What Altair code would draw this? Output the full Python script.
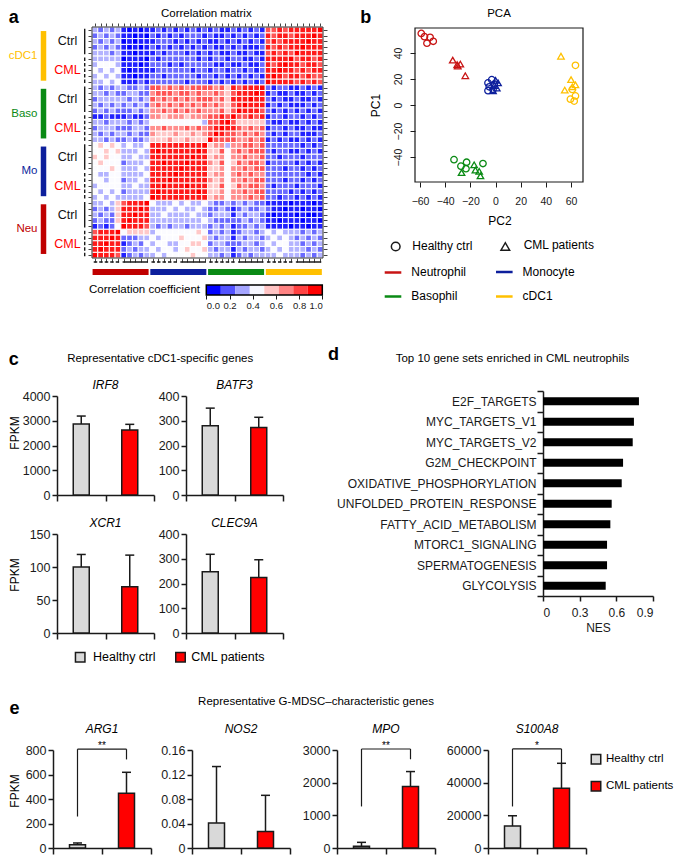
import altair as alt
import pandas as pd

FONT = "Liberation Sans"
INK = "#1a1a1a"

# ---------------- panel a: correlation matrix ----------------
HM_GROUPS = ["Neu", "Mo", "Baso", "cDC1"]          # left->right and bottom->top
HM_GROUP_COLORS = ["#c00000", "#0d1f9c", "#0a8a14", "#ffc000"]
HM_SUBS = ["CML", "Ctrl"]
HM_PER_SUB = 5
CORR_LEVELS = 9
# lower triangle, row i (from bottom) holds columns 0..i ; digit d -> correlation d/9
CORR_LOWER = [
    "9",
    "89",
    "889",
    "8889",
    "78889",
    "12124" "9",
    "23225" "89",
    "32325" "889",
    "23235" "8889",
    "33435" "78889",
    "34343" "33334" "9",
    "43434" "23333" "89",
    "34444" "33433" "889",
    "44344" "23343" "8889",
    "43344" "33334" "88889",
    "44454" "33343" "88888" "9",
    "45444" "23334" "88988" "89",
    "54544" "33433" "88888" "889",
    "44545" "33343" "89888" "8889",
    "45454" "34334" "88888" "88889",
    "33232" "23223" "55565" "56555" "9",
    "32323" "32322" "65556" "55656" "79",
    "23332" "22332" "66766" "67676" "789",
    "33233" "32323" "44444" "44443" "7789",
    "11211" "12112" "66566" "65666" "77879",
    "23232" "22323" "66767" "67676" "66757" "9",
    "32323" "23232" "67676" "76767" "67657" "89",
    "23333" "32323" "76767" "67677" "76758" "889",
    "33232" "23322" "67776" "77676" "67657" "8889",
    "32323" "32232" "77676" "76777" "76758" "78889",
    "33434" "11121" "22222" "21222" "12121" "21212" "9",
    "34343" "11011" "22122" "22212" "21212" "12121" "89",
    "43434" "10111" "12222" "22122" "12212" "21212" "889",
    "34443" "11101" "22212" "12222" "21121" "12112" "8789",
    "33333" "01110" "21222" "22212" "12212" "21121" "88889",
    "33323" "11011" "12122" "21212" "12112" "11211" "78787" "9",
    "23232" "10101" "21212" "12121" "21121" "21112" "87878" "89",
    "32323" "01011" "12221" "21212" "11212" "12121" "78788" "889",
    "23232" "11010" "21212" "12221" "21121" "21212" "87887" "8889",
    "32323" "10101" "12121" "21212" "12112" "12121" "77878" "88889",
]
CB_TICKS = [0, 0.2, 0.4, 0.6, 0.8, 1.0]
CB_BINS = 8

# ---------------- panel b: PCA ----------------
PCA_TYPES = ["Neutrophil", "Monocyte", "Basophil", "cDC1"]
PCA_COLORS = ["#c81414", "#0d1f9c", "#0a8a14", "#ffc000"]
COHORTS = ["Healthy ctrl", "CML patients"]
NEU_CTRL_PC2 = [-59, -56.5, -52, -49.5, -54.5]
NEU_CTRL_PC1 = [55, 52.5, 52, 49, 47.5]
NEU_CML_PC2 = [-34, -30.5, -28, -30, -24]
NEU_CML_PC1 = [34.5, 31, 31.5, 30, 22.5]
MONO_CTRL_PC2 = [-6, -5, -3, -2, -6, -1]
MONO_CTRL_PC1 = [17, 14, 19.5, 12, 11, 16]
MONO_CML_PC2 = [0, 1, -2, -1, 2]
MONO_CML_PC1 = [19, 13, 11, 15, 17]
BASO_CTRL_PC2 = [-33, -27.5, -23, -23.5, -10]
BASO_CTRL_PC1 = [-42, -47, -44, -49, -45]
BASO_CML_PC2 = [-27, -17, -16, -13, -12]
BASO_CML_PC1 = [-52, -46, -50, -51, -54.5]
DC_CTRL_PC2 = [63.5, 59.5, 62.5, 63.5, 61]
DC_CTRL_PC1 = [30.5, 4.5, 3, 7, 12]
DC_CML_PC2 = [52, 60, 55, 63.5, 61]
DC_CML_PC1 = [37.5, 19.5, 11.5, 15.5, 14]
PCA_X_TICKS = [-60, -40, -20, 0, 20, 40, 60]
PCA_Y_TICKS = [-40, -20, 0, 20, 40]

# ---------------- panel c: cDC1 genes (mean, SD) ----------------
COHORT_COLORS = ["#d9d9d9", "#ff0000"]
IRF8_MEAN = [2870, 2625]
IRF8_SD = [320, 230]
BATF3_MEAN = [280, 273]
BATF3_SD = [71, 41]
XCR1_MEAN = [100, 70]
XCR1_SD = [19, 48]
CLEC9A_MEAN = [247, 224]
CLEC9A_SD = [71, 72]

# ---------------- panel d: GSEA ----------------
GSEA_SETS = ["E2F_TARGETS", "MYC_TARGETS_V1", "MYC_TARGETS_V2", "G2M_CHECKPOINT",
             "OXIDATIVE_PHOSPHORYLATION", "UNFOLDED_PROTEIN_RESPONSE",
             "FATTY_ACID_METABOLISM", "MTORC1_SIGNALING", "SPERMATOGENESIS", "GLYCOLYSIS"]
GSEA_NES = [0.785, 0.744, 0.734, 0.655, 0.644, 0.562, 0.551, 0.524, 0.524, 0.513]
NES_TICKS = [0, 0.3, 0.6, 0.9]

# ---------------- panel e: G-MDSC genes (mean, SD, bracket) ----------------
ARG1_MEAN = [27, 447]
ARG1_SD = [14, 171]
ARG1_BRACKET = (807, 257, 723, "**")
NOS2_MEAN = [0.041, 0.027]
NOS2_SD = [0.092, 0.059]
MPO_MEAN = [50, 1882]
MPO_SD = [123, 458]
MPO_BRACKET = (3030, 1272, 2716, "**")
S100A8_MEAN = [13430, 36610]
S100A8_SD = [6300, 15250]
S100A8_BRACKET = (60660, 25430, 51880, "*")

ONE = pd.DataFrame({"k": [0]})

# ---------- layout helpers: every panel is a box (x0, y0, x1, y1) on the page and a plot rect ----------


def size_of(box):
    return dict(width=box[2] - box[0], height=box[3] - box[1])


def xrange_(box, plot):
    return [plot[0] - box[0], plot[0] + plot[2] - box[0]]


def yrange_(box, plot):          # bottom -> top (continuous)
    return [plot[1] + plot[3] - box[1], plot[1] - box[1]]


def yband_(box, plot):           # top -> bottom (band)
    return [plot[1] - box[1], plot[1] + plot[3] - box[1]]


def off_left(box, plot):
    return -(plot[0] - box[0])


def off_bottom(box, plot):
    return -(box[3] - plot[1] - plot[3])


def off_top(box, plot):
    return -(plot[1] - box[1])


def off_right(box, plot):
    return -(box[2] - plot[0] - plot[2])


def txt(s, x, y, size=12, **kw):
    return alt.Chart(pd.DataFrame({"t": [s]})).mark_text(fontSize=size, **kw).encode(
        x=alt.value(x), y=alt.value(y), text="t:N")


def T(box, s, x, y, size=12, **kw):
    return txt(s, x - box[0], y - box[1], size, **kw)


def border(box, plot, color, width):
    return alt.Chart(ONE).mark_rect(fillOpacity=0, stroke=color, strokeWidth=width).encode(
        x=alt.value(plot[0] - box[0]), x2=alt.value(plot[0] + plot[2] - box[0]),
        y=alt.value(plot[1] - box[1]), y2=alt.value(plot[1] + plot[3] - box[1]))


def pt(box, x, y, **kw):
    return alt.Chart(ONE).mark_point(**kw).encode(x=alt.value(x - box[0]), y=alt.value(y - box[1]))


def hline(box, x1, x2, y, color, width):
    return alt.Chart(ONE).mark_rule(color=color, strokeWidth=width).encode(
        x=alt.value(x1 - box[0]), x2=alt.value(x2 - box[0]), y=alt.value(y - box[1]))


def sq(box, x, y, fill):
    return alt.Chart(ONE).mark_square(size=90, fill=fill, stroke=INK, strokeWidth=1.5, opacity=1).encode(
        x=alt.value(x - box[0]), y=alt.value(y - box[1]))


# ================= panel a =================
HEAT_BOX = (5, 8, 340, 280)
HEAT_PLOT = (89, 27, 231, 231)
n = len(CORR_LOWER)
corr = [[0.0] * n for _ in range(n)]
for i, row in enumerate(CORR_LOWER):
    assert len(row) == i + 1, (i, len(row))
    for j, ch in enumerate(row):
        corr[i][j] = corr[j][i] = int(ch) / CORR_LEVELS
cells = pd.DataFrame([{"c": j, "c2": j + 1, "r": i, "r2": i + 1, "v": corr[i][j]}
                      for i in range(n) for j in range(n)])

SX = alt.Scale(domain=[0, n], range=xrange_(HEAT_BOX, HEAT_PLOT), nice=False, zero=False)
SY = alt.Scale(domain=[0, n], range=yrange_(HEAT_BOX, HEAT_PLOT), nice=False, zero=False)
CELL_TICKS = [k + 0.5 for k in range(n)]
CORR_SCALE = alt.Scale(domain=[0.06, 0.45, 0.94], range=["#0000ff", "#ffffff", "#ff0000"],
                       clamp=True, interpolate="rgb")


def cell_axis(orient, offset):
    return alt.Axis(orient=orient, offset=offset, values=CELL_TICKS, labels=False, ticks=True,
                    tickSize=4, tickColor="#444", tickWidth=1, domain=False, grid=False, title=None)


heat = alt.Chart(cells).mark_rect(stroke="white", strokeWidth=1).encode(
    x=alt.X("c:Q", scale=SX, axis=cell_axis("bottom", off_bottom(HEAT_BOX, HEAT_PLOT))), x2="c2:Q",
    y=alt.Y("r:Q", scale=SY, axis=cell_axis("left", off_left(HEAT_BOX, HEAT_PLOT))), y2="r2:Q",
    color=alt.Color("v:Q", scale=CORR_SCALE, legend=None))
heat_ticks2 = alt.Chart(cells.head(1)).mark_point(opacity=0).encode(
    x=alt.X("c:Q", scale=SX, axis=cell_axis("top", off_top(HEAT_BOX, HEAT_PLOT))),
    y=alt.Y("r:Q", scale=SY, axis=cell_axis("right", off_right(HEAT_BOX, HEAT_PLOT))))

per_group = 2 * HM_PER_SUB
grp_rows, sub_rows = [], []
for gi, g in enumerate(HM_GROUPS):
    g0 = gi * per_group
    grp_rows.append({"group": g, "lo": g0 + 0.7, "hi": g0 + per_group - 0.7,
                     "mid": g0 + per_group / 2, "blo": g0 + 0.1, "bhi": g0 + per_group - 0.2})
    for si, s in enumerate(HM_SUBS):
        s0 = g0 + si * HM_PER_SUB
        sub_rows.append({"sub": s, "lo": s0 + 0.3, "hi": s0 + HM_PER_SUB - 0.3,
                         "mid": s0 + HM_PER_SUB / 2})
grp = pd.DataFrame(grp_rows)
subs = pd.DataFrame(sub_rows)
GCOL = alt.Scale(domain=HM_GROUPS, range=HM_GROUP_COLORS)
SUBCOL = alt.Scale(domain=["Ctrl", "CML"], range=["#111111", "#ff0000"])
DASH = alt.Scale(domain=["Ctrl", "CML"], range=[[1, 0], [3.5, 2]])
hx0, hy0 = HEAT_BOX[0], HEAT_BOX[1]

left_bars = alt.Chart(grp).mark_rule(strokeWidth=5.5).encode(
    x=alt.value(40.5 - hx0), y=alt.Y("lo:Q", scale=SY, axis=None), y2="hi:Q",
    color=alt.Color("group:N", scale=GCOL, legend=None))
bottom_bars = alt.Chart(grp).mark_rule(strokeWidth=6).encode(
    x=alt.X("blo:Q", scale=SX, axis=None), x2="bhi:Q", y=alt.value(272 - hy0),
    color=alt.Color("group:N", scale=GCOL, legend=None))
grp_labels = alt.Chart(grp).mark_text(align="right", fontSize=11.5).encode(
    x=alt.value(34.5 - hx0), y=alt.Y("mid:Q", scale=SY, axis=None), text="group:N",
    color=alt.Color("group:N", scale=GCOL, legend=None))
sub_labels = alt.Chart(subs).mark_text(align="center", fontSize=12.5).encode(
    x=alt.value(64.5 - hx0), y=alt.Y("mid:Q", scale=SY, axis=None), text="sub:N",
    color=alt.Color("sub:N", scale=SUBCOL, legend=None))
left_lines = alt.Chart(subs).mark_rule(strokeWidth=1.4, color=INK).encode(
    x=alt.value(81.7 - hx0), y=alt.Y("lo:Q", scale=SY, axis=None), y2="hi:Q",
    strokeDash=alt.StrokeDash("sub:N", scale=DASH, legend=None))
bottom_lines = alt.Chart(subs).mark_rule(strokeWidth=1.4, color=INK).encode(
    x=alt.X("lo:Q", scale=SX, axis=None), x2="hi:Q", y=alt.value(262 - hy0),
    strokeDash=alt.StrokeDash("sub:N", scale=DASH, legend=None))

heatmap = alt.layer(
    heat, heat_ticks2, left_bars, bottom_bars, grp_labels, sub_labels, left_lines, bottom_lines,
    border(HEAT_BOX, HEAT_PLOT, "#333", 1),
    T(HEAT_BOX, "a", 10.8, 17.5, 18, fontWeight="bold"),
    T(HEAT_BOX, "Correlation matrix", 203.3, 14, 11.5),
).resolve_scale(color="independent").resolve_axis(x="independent", y="independent").properties(
    **size_of(HEAT_BOX))

CB_BOX = (5, 280, 340, 324)
CB_PLOT = (203.3, 285, 116, 10)
cb = pd.DataFrame({"lo": [k / CB_BINS for k in range(CB_BINS)],
                   "hi": [(k + 1) / CB_BINS for k in range(CB_BINS)],
                   "mid": [(k + 0.5) / CB_BINS for k in range(CB_BINS)]})
colorbar = alt.layer(
    alt.Chart(cb).mark_rect().encode(
        x=alt.X("lo:Q", scale=alt.Scale(domain=[0, 1], range=xrange_(CB_BOX, CB_PLOT), nice=False),
                axis=alt.Axis(values=CB_TICKS, format=".1f", labelFontSize=9.5, tickSize=4,
                              domain=False, labelPadding=1, title=None,
                              offset=off_bottom(CB_BOX, CB_PLOT))),
        x2="hi:Q", y=alt.value(CB_PLOT[1] - CB_BOX[1]), y2=alt.value(CB_PLOT[1] + CB_PLOT[3] - CB_BOX[1]),
        color=alt.Color("mid:Q", scale=CORR_SCALE, legend=None)),
    border(CB_BOX, CB_PLOT, "black", 1.5),
    T(CB_BOX, "Correlation coefficient", 197, 290, 11.5, align="right"),
).properties(**size_of(CB_BOX))

# ================= panel b =================
PCA_BOX = (340, 8, 674, 324)
PCA_PLOT = (412, 28, 168, 154)
pca_parts = [
    ("Neutrophil", "Healthy ctrl", NEU_CTRL_PC2, NEU_CTRL_PC1),
    ("Neutrophil", "CML patients", NEU_CML_PC2, NEU_CML_PC1),
    ("Monocyte", "Healthy ctrl", MONO_CTRL_PC2, MONO_CTRL_PC1),
    ("Monocyte", "CML patients", MONO_CML_PC2, MONO_CML_PC1),
    ("Basophil", "Healthy ctrl", BASO_CTRL_PC2, BASO_CTRL_PC1),
    ("Basophil", "CML patients", BASO_CML_PC2, BASO_CML_PC1),
    ("cDC1", "Healthy ctrl", DC_CTRL_PC2, DC_CTRL_PC1),
    ("cDC1", "CML patients", DC_CML_PC2, DC_CML_PC1),
]
pca = pd.DataFrame([{"type": t, "cohort": c, "pc2": x, "pc1": y}
                    for t, c, xs_, ys_ in pca_parts for x, y in zip(xs_, ys_)])
points = alt.Chart(pca).mark_point(filled=False, size=42, strokeWidth=1.3, opacity=1).encode(
    x=alt.X("pc2:Q", scale=alt.Scale(domain=[-64, 69.5], range=xrange_(PCA_BOX, PCA_PLOT),
                                     nice=False, zero=False),
            axis=alt.Axis(values=PCA_X_TICKS, tickSize=5, labelFontSize=10.5, labelPadding=9,
                          domain=False, title=None, offset=off_bottom(PCA_BOX, PCA_PLOT))),
    y=alt.Y("pc1:Q", scale=alt.Scale(domain=[-59.2, 59.2], range=yrange_(PCA_BOX, PCA_PLOT),
                                     nice=False, zero=False),
            axis=alt.Axis(values=PCA_Y_TICKS, labelAngle=270, labelAlign="center",
                          labelBaseline="bottom", tickSize=5, labelFontSize=10.5, labelPadding=7,
                          domain=False, title=None, offset=off_left(PCA_BOX, PCA_PLOT))),
    color=alt.Color("type:N", scale=alt.Scale(domain=PCA_TYPES, range=PCA_COLORS), legend=None),
    shape=alt.Shape("cohort:N", scale=alt.Scale(domain=COHORTS, range=["circle", "triangle-up"]),
                    legend=None))

pca_legend = [
    pt(PCA_BOX, 392.7, 246.5, shape="circle", filled=False, size=75, strokeWidth=1.5, color=INK, opacity=1),
    T(PCA_BOX, "Healthy ctrl", 409.3, 245.5, 12, align="left"),
    pt(PCA_BOX, 502.3, 246.5, shape="triangle-up", filled=False, size=75, strokeWidth=1.5, color=INK,
       opacity=1),
    T(PCA_BOX, "CML patients", 520.7, 244.5, 12, align="left"),
]
for k, (lx, ly) in enumerate([(381.7, 272.5), (493, 272), (381.7, 296.5), (493, 296.5)]):
    pca_legend.append(hline(PCA_BOX, lx, lx + 16.6, ly, PCA_COLORS[k], 2.5))
    pca_legend.append(T(PCA_BOX, PCA_TYPES[k], lx + 26.6, ly - 0.5, 12, align="left"))

panel_b = alt.layer(
    points, border(PCA_BOX, PCA_PLOT, INK, 1.2), *pca_legend,
    T(PCA_BOX, "b", 362.7, 17.5, 18, fontWeight="bold"),
    T(PCA_BOX, "PCA", 496, 14, 11.5),
    T(PCA_BOX, "PC1", 373.3, 105.5, 12, angle=270),
    T(PCA_BOX, "PC2", 497, 221, 12),
).properties(**size_of(PCA_BOX))


# ================= bar panels (c, e) =================
def bar_panel(gene, means, sds, ymax, ystep, plot, box, title_gap, bracket=None, extra=()):
    df = pd.DataFrame({"cohort": COHORTS, "mean": means, "sd": sds})
    df["top"] = df["mean"] + df["sd"]
    xs = alt.Scale(domain=COHORTS, paddingInner=0, paddingOuter=0, range=xrange_(box, plot))
    ys = alt.Scale(domain=[0, ymax], nice=False, range=yrange_(box, plot))
    nt = int(round(ymax / ystep))
    yticks = [round(k * ystep, 6) for k in range(nt + 1)]
    x_axis = alt.Axis(title=None, labels=False, tickBand="extent", tickSize=6, tickWidth=1.5,
                      domainWidth=1.5, offset=off_bottom(box, plot))
    y_axis = alt.Axis(title=None, values=yticks, format=".6~g", tickSize=5, tickWidth=1.5,
                      domainWidth=1.5, labelFontSize=12.5, labelPadding=2, offset=off_left(box, plot))

    def X():
        return alt.X("cohort:N", scale=xs, sort=COHORTS, axis=x_axis)

    def Y(field):
        return alt.Y(field, type="quantitative", scale=ys, axis=y_axis)

    base = alt.Chart(df)
    bars = base.mark_bar(size=16, stroke=INK, strokeWidth=1.5).encode(
        x=X(), y=Y("mean"),
        color=alt.Color("cohort:N", scale=alt.Scale(domain=COHORTS, range=COHORT_COLORS), legend=None))
    err = base.mark_rule(color=INK, strokeWidth=1.5).encode(x=X(), y=Y("mean"), y2="top:Q")
    cap = base.mark_tick(orient="horizontal", size=9, thickness=1.5, color=INK, opacity=1).encode(
        x=X(), y=Y("top"))
    cx = plot[0] + plot[2] / 2
    layers = [bars, err, cap, T(box, gene, cx, plot[1] - title_gap, 12, fontStyle="italic")]
    if bracket is not None:
        top, lo_a, lo_b, stars = bracket
        bdf = pd.DataFrame({"cohort": COHORTS, "lo": [lo_a, lo_b], "top": [top, top]})
        layers.append(alt.Chart(bdf).mark_rule(color=INK, strokeWidth=1.2).encode(
            x=X(), y=Y("lo"), y2="top:Q"))
        layers.append(alt.Chart(bdf).mark_line(color=INK, strokeWidth=1.2).encode(
            x=X(), y=Y("top")))
        layers.append(alt.Chart(pd.DataFrame({"s": [stars], "top": [top]})).mark_text(
            fontSize=10, baseline="alphabetic").encode(
            x=alt.value(cx - box[0]), y=Y("top"), text="s:N"))
    layers.extend(extra)
    return alt.layer(*layers).properties(**size_of(box))


B_IRF8 = (5, 372, 153, 510)
B_BATF3 = (153, 372, 300, 510)
B_XCR1 = (5, 510, 153, 645)
B_CLEC9A = (153, 510, 300, 645)
irf8 = bar_panel("IRF8", IRF8_MEAN, IRF8_SD, 4000, 1000, (54, 396, 97, 99), B_IRF8, 11,
                 extra=[T(B_IRF8, "FPKM", 11.5, 433, 12, angle=270)])
batf3 = bar_panel("BATF3", BATF3_MEAN, BATF3_SD, 400, 100, (183, 396, 97, 99), B_BATF3, 11)
xcr1 = bar_panel("XCR1", XCR1_MEAN, XCR1_SD, 150, 50, (54, 534, 97, 99), B_XCR1, 11,
                 extra=[T(B_XCR1, "FPKM", 11.5, 575, 12, angle=270)])
clec9a = bar_panel("CLEC9A", CLEC9A_MEAN, CLEC9A_SD, 400, 100, (183, 534, 97, 99), B_CLEC9A, 11)

C_TITLE_BOX = (5, 330, 300, 372)
c_title = alt.layer(
    T(C_TITLE_BOX, "c", 10.8, 359.5, 18, fontWeight="bold"),
    T(C_TITLE_BOX, "Representative cDC1-specific genes", 157.2, 359.3, 11.5),
).properties(**size_of(C_TITLE_BOX))
C_LEG_BOX = (5, 645, 300, 686)
c_legend = alt.layer(
    sq(C_LEG_BOX, 77.2, 657.2, COHORT_COLORS[0]), T(C_LEG_BOX, COHORTS[0], 90, 657.2, 12.5, align="left"),
    sq(C_LEG_BOX, 177.5, 657.2, COHORT_COLORS[1]), T(C_LEG_BOX, COHORTS[1], 188.3, 657.2, 12.5, align="left"),
).properties(**size_of(C_LEG_BOX))

# ================= panel d =================
D_BOX = (300, 330, 674, 686)
D_PLOT = (540, 391, 110, 205)
gsea = pd.DataFrame({"set": GSEA_SETS, "nes": GSEA_NES})
panel_d = alt.layer(
    alt.Chart(gsea).mark_bar(size=8, color="black").encode(
        y=alt.Y("set:N", sort=GSEA_SETS,
                scale=alt.Scale(paddingInner=0, paddingOuter=0, range=yband_(D_BOX, D_PLOT)),
                axis=alt.Axis(title=None, tickBand="extent", tickSize=6, tickWidth=1.5,
                              domainWidth=1.5, labelFontSize=12, labelPadding=1, labelLimit=400,
                              offset=off_left(D_BOX, D_PLOT))),
        x=alt.X("nes:Q", scale=alt.Scale(domain=[0, 0.9], nice=False, range=xrange_(D_BOX, D_PLOT)),
                axis=alt.Axis(values=NES_TICKS, format=".6~g", title="NES", tickSize=5, tickWidth=1.5,
                              domainWidth=1.5, labelFontSize=12, labelPadding=6, titleFontSize=12,
                              titlePadding=4, offset=off_bottom(D_BOX, D_PLOT)))),
    T(D_BOX, "d", 330.5, 355, 18, fontWeight="bold"),
    T(D_BOX, "Top 10 gene sets enriched in CML neutrophils", 509.5, 359.3, 11.5),
).properties(**size_of(D_BOX))

# ================= panel e =================
E_TITLE_BOX = (5, 686, 674, 720)
e_title = alt.layer(
    T(E_TITLE_BOX, "e", 11.5, 709, 18, fontWeight="bold"),
    T(E_TITLE_BOX, "Representative G-MDSC\u2013characteristic genes", 313, 702, 11.5),
).properties(**size_of(E_TITLE_BOX))
EY = 750
B_ARG1 = (5, 720, 150, 855)
B_NOS2 = (150, 720, 295, 855)
B_MPO = (295, 720, 437, 855)
B_S100 = (437, 720, 674, 855)
arg1 = bar_panel("ARG1", ARG1_MEAN, ARG1_SD, 800, 200, (50, EY, 98, 98), B_ARG1, 21,
                 bracket=ARG1_BRACKET, extra=[T(B_ARG1, "FPKM", 11.5, EY + 41, 12, angle=270)])
nos2 = bar_panel("NOS2", NOS2_MEAN, NOS2_SD, 0.16, 0.04, (189, EY, 98, 98), B_NOS2, 21)
mpo = bar_panel("MPO", MPO_MEAN, MPO_SD, 3000, 1000, (334, EY, 98, 98), B_MPO, 21, bracket=MPO_BRACKET)
s100a8 = bar_panel("S100A8", S100A8_MEAN, S100A8_SD, 60000, 20000, (485, EY, 98, 98), B_S100, 21,
                   bracket=S100A8_BRACKET, extra=[
                       sq(B_S100, 593, EY + 9.3, COHORT_COLORS[0]),
                       T(B_S100, COHORTS[0], 603, EY + 9.3, 11.5, align="left"),
                       sq(B_S100, 593, EY + 36.3, COHORT_COLORS[1]),
                       T(B_S100, COHORTS[1], 603, EY + 36.3, 11.5, align="left"),
                   ])

# ================= assemble: panels tile the page box by box =================
row1 = alt.hconcat(alt.vconcat(heatmap, colorbar, spacing=0), panel_b, spacing=0)
c_col = alt.vconcat(c_title, alt.hconcat(irf8, batf3, spacing=0), alt.hconcat(xcr1, clec9a, spacing=0),
                    c_legend, spacing=0)
row2 = alt.hconcat(c_col, panel_d, spacing=0)
row3 = alt.vconcat(e_title, alt.hconcat(arg1, nos2, mpo, s100a8, spacing=0), spacing=0)

chart = alt.vconcat(row1, row2, row3, spacing=0).properties(padding=0)

chart = chart.configure(font=FONT).configure_view(stroke=None).configure_axis(
    grid=False, domainColor=INK, tickColor=INK, labelColor=INK, titleColor=INK,
    titleFontWeight="normal", labelFont=FONT, titleFont=FONT)

chart.save("out.html", embed_options={"renderer": "svg", "actions": False})
